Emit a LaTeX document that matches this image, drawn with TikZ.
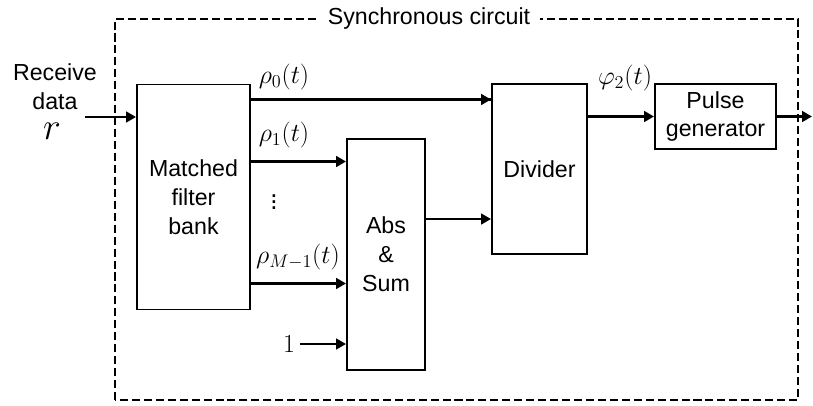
\RequirePackage{fix-cm}
\documentclass[tikz,border=0pt]{standalone}
\usepackage{amsmath}
\usepackage{fontspec}
\setmainfont{Liberation Sans}
\usepackage{tikz}
\usetikzlibrary{arrows.meta}

\tikzset{
  blk/.style={draw,line width=1.4pt,align=center,inner sep=0pt},
  sig/.style={line width=2.1pt,-{Triangle[length=7pt,width=7.5pt]}},
  lbl/.style={inner sep=0pt,font=\fontsize{18.5}{22}\selectfont},
}

\begin{document}
\begin{tikzpicture}[font=\fontsize{16.5}{20.5}\selectfont]
        \useasboundingbox (0,0) rectangle (20.325,10.125);

        %------------------
        % 同期回路（点線）
        %------------------
        \draw[line width=1.4pt,dash pattern=on 5.7pt off 2.8pt] (2.875,0.125) rectangle (19.95,9.65);
        \node[fill=white,inner xsep=7pt,inner ysep=2pt] (title) at (10.725,9.65) {Synchronous circuit};

        %------------------
        % ブロック
        %------------------
        \node[blk,minimum width=2.825cm,minimum height=5.625cm] (mf) at (4.8375,5.2) {Matched\\filter\\bank};
        \node[blk,minimum width=1.95cm,minimum height=5.775cm] (abs) at (9.65,3.7625) {Abs\\\&\\Sum};
        \node[blk,minimum width=2.375cm,minimum height=4.25cm] (div) at (13.4875,5.9) {Divider};
        \node[blk,minimum width=3.025cm,minimum height=1.625cm] (pg) at (17.8875,7.2125) {Pulse\\generator};

        %------------------
        % 入出力
        %------------------
        \node[align=center,inner sep=0pt] (rx) at (1.375,7.95) {Receive\\data};
        \node[inner sep=0pt,font=\fontsize{27}{27}\selectfont] (r) at (1.3,6.85) {$r$};
        \coordinate (rin) at (2.125,7.2);
        \coordinate (out) at (20.3,7.2125);
        \node[font=\fontsize{18.5}{22}\selectfont] (one) at (7.225,1.525) {$1$};

        % 矢印
        \draw[sig] (rin) -- (rin -| mf.west);
        \draw[line width=2.1pt] ([yshift=-0.4cm]mf.north east) coordinate (p0) -- (p0 -| div.west);
        \draw[sig] (p0 -| abs.east) -- (p0 -| div.west);
        \draw[sig] ([yshift=-1.95cm]mf.north east) coordinate (p1) -- (p1 -| abs.west);
        \draw[sig] ([yshift=0.675cm]mf.south east) coordinate (pm) -- (pm -| abs.west);
        \draw[sig] (one.east) -- (one -| abs.west);
        \draw[sig] ([yshift=-2.025cm]abs.north east) coordinate (pa) -- (pa -| div.west);
        \draw[sig] (pg.west -| div.east) -- (pg.west);
        \draw[sig] (pg.east) -- (out);

        %------------------
        % ラベル
        %------------------
        \node[lbl] (r0) at (7.1,8.2) {$\rho_0(t)$};
        \node[lbl] (r1) at (7.1,6.75) {$\rho_1(t)$};
        \node[lbl] (dots) at (6.85,5.175) {$\vdots$};
        \node[lbl] (rm) at (7.45,3.7) {$\rho_{M-1}(t)$};
        \node[lbl] (f2) at (15.625,8.175) {$\varphi_2(t)$};
      \end{tikzpicture}
\end{document}
